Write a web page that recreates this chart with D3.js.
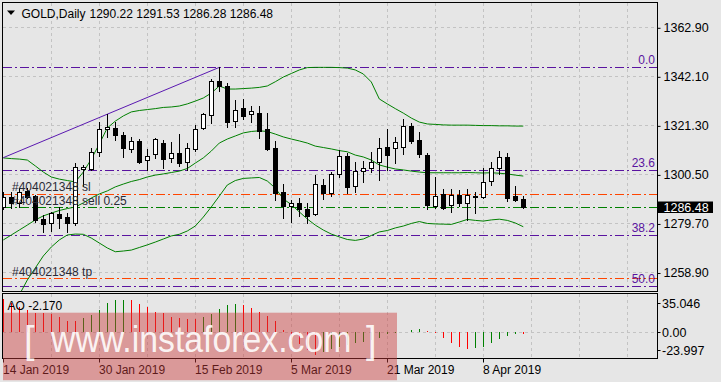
<!DOCTYPE html>
<html><head><meta charset="utf-8">
<script src="https://cdn.jsdelivr.net/npm/d3@7"></script>
<style>html,body{margin:0;padding:0;background:#e6e6e6;} svg{display:block;} text{font-family:"Liberation Sans",Arial,sans-serif;}</style>
</head><body><svg id="c" width="721" height="382"></svg>
<script>
const symbolName = "GOLD,Daily";
const dates = ["2019-01-14","2019-01-15","2019-01-16","2019-01-17","2019-01-18","2019-01-21","2019-01-22","2019-01-23","2019-01-24","2019-01-25","2019-01-28","2019-01-29","2019-01-30","2019-01-31","2019-02-01","2019-02-04","2019-02-05","2019-02-06","2019-02-07","2019-02-08","2019-02-11","2019-02-12","2019-02-13","2019-02-14","2019-02-15","2019-02-18","2019-02-19","2019-02-20","2019-02-21","2019-02-22","2019-02-25","2019-02-26","2019-02-27","2019-02-28","2019-03-01","2019-03-04","2019-03-05","2019-03-06","2019-03-07","2019-03-08","2019-03-11","2019-03-12","2019-03-13","2019-03-14","2019-03-15","2019-03-18","2019-03-19","2019-03-20","2019-03-21","2019-03-22","2019-03-25","2019-03-26","2019-03-27","2019-03-28","2019-03-29","2019-04-01","2019-04-02","2019-04-03","2019-04-04","2019-04-05","2019-04-08","2019-04-09","2019-04-10","2019-04-11","2019-04-12","2019-04-15"];
const open  = [1286.8,1291.0,1288.2,1293.5,1291.3,1281.7,1279.8,1283.7,1282.3,1280.0,1302.7,1302.7,1310.1,1319.6,1320.0,1317.2,1311.1,1314.8,1306.6,1309.0,1313.9,1307.3,1309.4,1305.6,1311.4,1320.0,1325.6,1340.0,1338.0,1323.3,1328.5,1326.0,1326.7,1319.8,1311.6,1293.0,1287.1,1288.2,1285.7,1283.6,1296.0,1292.7,1300.5,1308.4,1295.6,1301.9,1303.1,1305.9,1312.2,1311.6,1312.0,1321.0,1315.1,1308.7,1287.1,1292.2,1287.5,1291.8,1288.4,1290.9,1291.0,1297.7,1303.1,1307.7,1291.3,1290.22];
const high  = [1293.0,1293.2,1294.9,1294.6,1291.8,1283.3,1284.7,1286.8,1284.1,1305.2,1304.5,1311.6,1322.8,1326.1,1322.8,1318.6,1316.2,1315.4,1311.1,1315.9,1315.1,1314.4,1317.6,1313.7,1321.4,1326.7,1340.8,1345.9,1339.1,1332.0,1332.3,1329.5,1329.5,1326.4,1314.7,1296.4,1289.6,1290.4,1288.5,1300.2,1298.5,1301.6,1310.8,1309.4,1305.8,1306.2,1310.1,1316.1,1319.6,1316.2,1323.9,1322.2,1318.6,1309.6,1299.4,1294.3,1294.3,1293.9,1294.3,1293.0,1303.2,1305.9,1310.4,1309.4,1295.6,1291.53];
const low   = [1285.8,1286.1,1286.8,1290.4,1280.4,1276.2,1276.6,1277.6,1276.2,1279.0,1295.6,1302.4,1308.3,1316.5,1315.1,1308.0,1310.1,1305.2,1302.4,1307.5,1303.1,1305.9,1304.1,1302.4,1310.5,1319.6,1322.2,1336.0,1320.5,1320.7,1323.9,1322.8,1316.1,1310.8,1289.6,1281.9,1280.4,1282.9,1280.0,1283.3,1289.9,1291.3,1299.5,1292.5,1293.2,1297.4,1301.6,1298.1,1302.4,1305.5,1309.1,1313.7,1308.0,1286.0,1286.3,1285.8,1284.7,1287.1,1281.2,1284.1,1290.5,1296.0,1300.7,1289.2,1289.2,1286.28];
const close = [1291.0,1288.5,1293.2,1291.0,1281.2,1279.5,1284.0,1282.1,1280.0,1303.5,1303.5,1310.1,1319.6,1320.6,1317.1,1311.6,1314.7,1305.9,1308.4,1315.4,1307.0,1309.4,1305.5,1311.6,1319.6,1326.1,1340.0,1338.0,1322.8,1327.8,1325.4,1327.4,1319.0,1311.1,1292.7,1287.1,1288.5,1285.7,1283.0,1296.3,1292.7,1300.5,1308.4,1295.3,1301.9,1303.1,1305.9,1311.6,1308.7,1314.1,1321.0,1314.8,1309.0,1287.5,1291.3,1286.3,1291.8,1288.4,1291.8,1291.3,1297.1,1303.3,1307.7,1290.5,1289.6,1286.48];
const bbUpper  = [1307.5,1307.2,1307.0,1306.6,1304.1,1301.5,1299.4,1298.5,1297.9,1297.3,1301.5,1307.0,1313.4,1320.2,1323.1,1325.3,1327.0,1327.6,1328.0,1328.4,1328.9,1329.1,1329.5,1330.4,1331.6,1332.9,1335.0,1338.0,1336.7,1336.7,1336.9,1337.1,1337.4,1338.0,1339.8,1341.8,1343.3,1344.8,1345.8,1345.9,1345.9,1345.9,1345.8,1345.6,1344.8,1343.1,1339.7,1332.5,1330.4,1328.4,1326.5,1324.4,1322.7,1321.9,1321.7,1321.5,1321.4,1321.4,1321.4,1321.3,1321.2,1321.2,1321.1,1321.1,1321.0,1321.0];
const bbMiddle = [1272.7,1274.8,1276.9,1279.0,1281.2,1282.9,1284.1,1285.2,1286.0,1286.7,1288.4,1290.5,1292.2,1293.5,1295.2,1296.4,1297.5,1298.3,1299.4,1300.2,1300.7,1301.3,1301.9,1303.0,1305.3,1307.5,1310.4,1313.8,1315.5,1316.8,1318.1,1318.7,1319.0,1318.7,1317.6,1316.4,1315.5,1314.7,1313.8,1312.5,1311.9,1311.3,1310.6,1310.1,1308.7,1307.9,1306.6,1304.5,1303.6,1302.8,1302.4,1301.9,1301.5,1301.2,1301.2,1301.2,1301.2,1301.2,1301.3,1301.2,1301.1,1301.2,1301.0,1300.7,1300.2,1299.8];
const bbLower  = [1237.9,1243.8,1249.4,1255.7,1260.8,1265.9,1269.7,1272.7,1274.8,1275.2,1275.1,1273.5,1271.4,1269.3,1267.7,1268.0,1268.4,1269.5,1270.6,1271.8,1273.1,1274.4,1275.1,1276.5,1278.6,1282.4,1286.7,1291.3,1296.0,1297.9,1298.8,1299.0,1299.2,1297.7,1294.7,1290.1,1287.7,1284.6,1281.6,1279.0,1276.9,1275.2,1274.0,1272.9,1272.5,1273.1,1274.6,1276.1,1276.7,1277.8,1278.6,1279.7,1280.5,1279.7,1279.5,1279.4,1279.3,1280.3,1281.4,1281.0,1280.7,1281.2,1281.5,1281.0,1279.9,1278.3];
const aoValues = [35.046,30.5,26.9,23.4,20.6,20.0,19.2,16.4,12.2,12.0,14.7,18.2,23.4,31.1,33.9,34.2,33.8,29.7,26.3,21.6,20.0,16.4,14.7,13.7,13.5,16.4,19.2,24.5,28.7,29.7,28.7,25.2,21.6,17.1,12.2,2.4,-8.0,-12.0,-19.0,-23.997,-21.0,-18.0,-15.0,-13.0,-11.3,-9.9,-8.1,-6.3,-1.8,-0.8,0.3,2.4,3.5,1.7,-0.4,-5.7,-10.9,-15.8,-17.2,-17.0,-15.1,-10.9,-6.7,-3.6,-2.0,-2.170];
const priceTicks = [1258.90,1279.70,1300.50,1321.30,1342.10,1362.90];
const dateTickDates  = ["2019-01-14","2019-01-30","2019-02-15","2019-03-05","2019-03-21","2019-04-08"];
const dateTickLabels = ["14 Jan 2019","30 Jan 2019","15 Feb 2019","5 Mar 2019","21 Mar 2019","8 Apr 2019"];
const fibLabels = ["0.0","23.6","38.2","50.0"];
const fibValues = [1345.9,1302.2,1275.0,1253.1];
const orderLabels = ["#404021348 sl","#404021348 sell 0.25","#404021348 tp"];
const orderValues = [1292.3,1286.6,1256.4];
const orderColors = ["#ff4500","#008000","#ff4500"];
const trendDates = ["2019-01-14","2019-02-20"];
const trendValues = [1307.6,1345.9];

const svg = d3.select("#c");
svg.append("rect").attr("width",721).attr("height",382).attr("fill","#e6e6e6");
const defs = svg.append("defs");
defs.append("clipPath").attr("id","cm").append("rect").attr("x",3).attr("y",3).attr("width",654).attr("height",288);
defs.append("clipPath").attr("id","cl").append("rect").attr("x",3).attr("y",294).attr("width",654).attr("height",64);

const idx = d => dates.indexOf(d);
const x = d3.scaleLinear().domain([0,65]).range([3.3,523.3]);
const px = i => Math.round(x(i)) + 0.5;
const y = d3.scaleLinear().domain([1250.75,1373.2]).range([291.7,3]);
const sy = v => Math.round(y(v)) + 0.5;
const aoMin = d3.min(aoValues), aoMax = d3.max(aoValues);
const ya = d3.scaleLinear().domain([aoMin,aoMax]).range([355.1,298.8]);
const gridIdx = d3.range(6,80,6);
const gridColor = "#c3c3c3";
const fibColor = "#5a14a0";

// ---- main panel ----
const gm = svg.append("g").attr("clip-path","url(#cm)");
gm.selectAll("line.vg").data(gridIdx).join("line")
  .attr("x1",px).attr("x2",px).attr("y1",3).attr("y2",291)
  .attr("stroke",gridColor).attr("stroke-dasharray","3,3");
gm.selectAll("line.hg").data(priceTicks).join("line")
  .attr("x1",3).attr("x2",657).attr("y1",sy).attr("y2",sy)
  .attr("stroke",gridColor).attr("stroke-dasharray","3,3");

// fib levels
gm.selectAll("line.fib").data(fibValues).join("line")
  .attr("x1",3).attr("x2",657).attr("y1",sy).attr("y2",sy)
  .attr("stroke",fibColor).attr("stroke-dasharray","9,3,2,3");
// order lines
gm.selectAll("line.ord").data(orderValues).join("line")
  .attr("x1",3).attr("x2",657).attr("y1",sy).attr("y2",sy)
  .attr("stroke",(d,i)=>orderColors[i]).attr("stroke-dasharray","9,3,2,3");

// bollinger bands
const bandLine = d3.line().x((d,i)=>x(i)).y(d=>y(d));
[bbUpper,bbMiddle,bbLower].forEach(arr=>{
  gm.append("path").attr("d",bandLine(arr)).attr("fill","none").attr("stroke","#008000").attr("stroke-width",1);
});
// trend line
gm.append("line").attr("x1",x(idx(trendDates[0]))).attr("y1",y(trendValues[0]))
  .attr("x2",x(idx(trendDates[1]))).attr("y2",y(trendValues[1]))
  .attr("stroke","#5a18b0").attr("stroke-width",1);

// candles
const cg = gm.append("g");
dates.forEach((d,i)=>{
  const cx = px(i);
  cg.append("line").attr("x1",cx).attr("x2",cx).attr("y1",Math.round(y(high[i]))).attr("y2",Math.round(y(low[i]))+1)
    .attr("stroke","#000").attr("stroke-width",1);
  const top = Math.round(y(Math.max(open[i],close[i]))) + 0.5;
  const bot = Math.round(y(Math.min(open[i],close[i]))) + 0.5;
  const up = close[i] >= open[i];
  cg.append("rect").attr("x",cx-2).attr("y",top).attr("width",4).attr("height",Math.max(1,bot-top))
    .attr("fill", up ? "#ffffff" : "#000000").attr("stroke","#000").attr("stroke-width",1);
});

// fib labels
svg.selectAll("text.fib").data(fibValues).join("text")
  .attr("x",655).attr("y",d=>y(d)-3).attr("text-anchor","end")
  .attr("font-size",12).attr("fill",fibColor).text((d,i)=>fibLabels[i]);
// order labels
svg.selectAll("text.ord").data(orderValues).join("text")
  .attr("x",12).attr("y",d=>y(d)-2.5).attr("font-size",12).attr("fill","#2a2a36")
  .text((d,i)=>orderLabels[i]);

// header
svg.append("path").attr("d","M7,10.5 L15,10.5 L11,15 Z").attr("fill","#000");
svg.append("text").attr("x",21.5).attr("y",17.5).attr("font-size",12).attr("fill","#000").text(symbolName);
const last = dates.length-1;
svg.append("text").attr("x",89.5).attr("y",17.5).attr("font-size",12).attr("fill","#000")
  .text([open[last],high[last],low[last],close[last]].map(v=>v.toFixed(2)).join(" "));

// price axis
const ax = svg.append("g").attr("transform","translate(657.5,0)")
  .call(d3.axisRight(y).tickValues(priceTicks).tickFormat(d3.format(".2f")).tickSize(3).tickPadding(3));
ax.select(".domain").remove();
ax.selectAll("line").attr("stroke","#000").attr("transform","translate(0,0.5)");
ax.selectAll("text").attr("font-size",12.5).attr("fill","#000").attr("font-family","Liberation Sans, Arial, sans-serif");

// current price box
const cy = y(close[last]);
svg.append("rect").attr("x",658).attr("y",Math.round(cy)-5.5).attr("width",55).attr("height",11.5).attr("fill","#000");
svg.append("text").attr("x",663.5).attr("y",Math.round(cy)+4.5).attr("font-size",12.5).attr("fill","#fff").text(close[last].toFixed(2));

// ---- lower panel (AO) ----
const gl = svg.append("g").attr("clip-path","url(#cl)");
gl.selectAll("line.vg").data(gridIdx).join("line")
  .attr("x1",px).attr("x2",px).attr("y1",294).attr("y2",358)
  .attr("stroke",gridColor).attr("stroke-dasharray","3,3");
gl.append("line").attr("x1",3).attr("x2",657).attr("y1",Math.round(ya(0))+0.5).attr("y2",Math.round(ya(0))+0.5)
  .attr("stroke",gridColor).attr("stroke-dasharray","3,3");
gl.selectAll("line.ao").data(aoValues).join("line")
  .attr("x1",(d,i)=>px(i)).attr("x2",(d,i)=>px(i))
  .attr("y1",Math.round(ya(0))).attr("y2",d=>Math.round(ya(d)))
  .attr("stroke",(d,i)=> (i>0 && d>aoValues[i-1]) ? "#008000" : "#ff0000").attr("stroke-width",1);

svg.append("text").attr("x",7.5).attr("y",309.5).attr("font-size",12).attr("fill","#000")
  .text("AO " + aoValues[last].toFixed(3));
const aoLabels = [[aoMax, ya(aoMax)+4.5, aoMax.toFixed(3)],[0, ya(0), "0.00"],[aoMin, ya(aoMin)-4.8, aoMin.toFixed(3)]];
aoLabels.forEach(l=>{
  svg.append("line").attr("x1",657.5).attr("x2",660.5).attr("y1",Math.round(l[1])+0.5).attr("y2",Math.round(l[1])+0.5).attr("stroke","#000");
  svg.append("text").attr("x",662).attr("y",l[1]+4.4).attr("font-size",12.5).attr("fill","#000").text(l[2]);
});

// date axis
const dx = svg.append("g").attr("transform","translate(0,358.5)")
  .call(d3.axisBottom(x).tickValues(dateTickDates.map(idx)).tickFormat((d,i)=>dateTickLabels[i]).tickSize(4).tickPadding(3));
dx.select(".domain").remove();
dx.selectAll(".tick").attr("transform",d=>`translate(${px(d)},0)`);
dx.selectAll("line").attr("stroke","#000");
dx.selectAll("text").attr("text-anchor","start").attr("x",-0.5).attr("font-size",12).attr("fill","#000")
  .attr("font-family","Liberation Sans, Arial, sans-serif");

// frames
svg.append("rect").attr("x",2.5).attr("y",2.5).attr("width",655).attr("height",289).attr("fill","none").attr("stroke","#000");
svg.append("rect").attr("x",2.5).attr("y",293.5).attr("width",655).attr("height",65).attr("fill","none").attr("stroke","#000");

// watermark
svg.append("rect").attr("x",3).attr("y",312.7).attr("width",394).attr("height",67.5).attr("fill","rgb(205,60,60)").attr("fill-opacity",0.45);
const wm = svg.append("g").attr("fill","#ffffff").attr("fill-opacity",0.9);
wm.append("text").attr("x",24).attr("y",353).attr("font-size",38).attr("font-weight",300).text("[");
wm.append("text").attr("transform","translate(51,352) scale(1,1.12)").attr("font-size",33.8).text("www.instaforex.com");
wm.append("text").attr("x",366).attr("y",353).attr("font-size",38).text("]");
</script>
</body></html>
